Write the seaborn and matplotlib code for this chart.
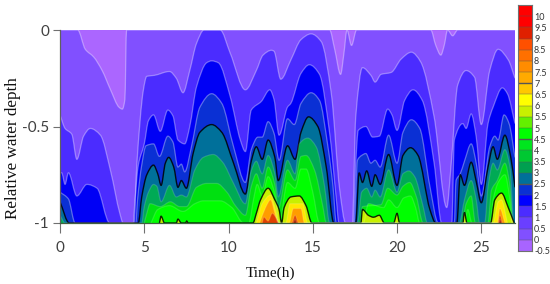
import numpy as np
import seaborn as sns
import matplotlib
matplotlib.use('Agg')
import matplotlib.pyplot as plt
from matplotlib.colors import ListedColormap, BoundaryNorm
from matplotlib.path import Path
from matplotlib.patches import PathPatch

# contour positions: time (h) and relative depth of each level
t0 = [0, 1.05, 1.5, 2, 2.5, 3, 3.5, 3.7, 3.85, 3.95, 16, 16.3, 16.65, 16.85, 17.03, 17.3, 17.6, 22, 22.3, 22.6, 22.8, 23, 23.3, 23.6, 27]
d0 = [0, 0, -.1, -.14, -.21, -.31, -.4, -.41, -.36, 0, 0, -.1, -.23, -.12, 0, -.08, 0, 0, -.08, -.13, -.08, 0, -.03, 0, 0]
t1 = [0, .3, .7, 1, 1.4, 1.8, 2.4, 3, 3.55, 3.75, 4.4, 4.55, 4.95, 5.15, 5.6, 6.5, 6.9, 7.3, 7.7, 8.1, 8.55, 9.5, 10.1, 11, 11.65, 12.05, 12.55, 12.7, 13.1, 13.7, 14.3, 14.9, 15.5, 16.1, 16.6, 16.95, 17.35, 17.55, 17.95, 18.45, 18.7, 19.05, 19.65, 20.25, 20.85, 21.4, 22.2, 22.95, 23.2, 23.6, 24.1, 24.6, 25, 25.5, 26, 26.6, 27]
d1 = [-.44, -.51, -.54, -.67, -.55, -.51, -.545, -.73, -.95, -1, -1, -.71, -.31, -.24, -.235, -.215, -.25, -.325, -.21, -.07, 0, 0, -.12, -.31, -.21, -.13, -.105, -.11, -.255, -.155, -.05, -.02, -.06, -.33, -.83, -1, -1, -.45, -.195, -.235, -.27, -.23, -.22, -.15, -.115, -.165, -.45, -.92, -.71, -.285, -.21, -.245, -.49, -.21, -.1, -.155, -.25]
t2 = [0, .1, .3, .5, 1, 1.6, 2.2, 2.95, 4.35, 4.45, 4.65, 5, 5.25, 5.55, 5.95, 6.4, 6.7, 7, 7.4, 7.7, 8.1, 8.7, 9, 9.4, 10.1, 10.7, 11, 11.35, 11.95, 12.45, 12.7, 13, 13.5, 13.7, 14.3, 14.8, 15.4, 16, 16.4, 16.55, 17.4, 17.55, 17.7, 18.15, 18.55, 18.95, 19.45, 19.7, 20, 20.45, 20.95, 21.5, 22.2, 22.65, 23.25, 23.4, 23.9, 24.1, 24.4, 24.7, 25, 25.4, 25.7, 26.25, 26.55, 27]
d2 = [-.74, -.74, -.8, -.74, -.86, -.8, -.82, -1, -1, -.88, -.7, -.59, -.47, -.44, -.525, -.415, -.445, -.57, -.59, -.5, -.295, -.17, -.16, -.17, -.345, -.57, -.63, -.415, -.37, -.31, -.36, -.545, -.4, -.38, -.225, -.18, -.23, -.535, -.88, -1, -1, -.69, -.52, -.5, -.555, -.55, -.41, -.44, -.52, -.365, -.31, -.365, -.69, -1, -1, -.57, -.485, -.51, -.435, -.555, -.8, -.485, -.4, -.3, -.33, -.485]
t3 = [0, .5, .9, 4.5, 4.6, 4.85, 5.1, 5.55, 5.9, 6.4, 6.7, 7, 7.2, 7.4, 7.8, 8.3, 9, 9.6, 10.3, 11, 11.35, 11.75, 12, 12.35, 12.7, 13, 13.5, 13.9, 14.3, 14.9, 15.4, 15.9, 16.2, 16.4, 17.45, 17.65, 17.9, 18.15, 18.45, 18.7, 19, 19.5, 20, 20.35, 20.85, 21.35, 21.95, 22.45, 23.4, 23.5, 23.75, 24, 24.4, 24.7, 25, 25.5, 25.8, 26, 26.35, 26.65, 27]
d3 = [-.84, -.875, -1, -1, -.88, -.7, -.6, -.59, -.655, -.55, -.58, -.71, -.695, -.735, -.605, -.4, -.33, -.38, -.605, -.79, -.62, -.555, -.555, -.475, -.535, -.675, -.46, -.49, -.38, -.325, -.365, -.605, -.81, -1, -1, -.675, -.65, -.64, -.69, -.675, -.71, -.545, -.69, -.53, -.465, -.51, -.81, -1, -1, -.78, -.745, -.68, -.59, -.69, -.86, -.605, -.55, -.57, -.44, -.485, -.66]
t4 = [0, .55, 4.65, 4.85, 5.15, 5.55, 5.8, 6, 6.25, 6.45, 6.75, 7, 7.2, 7.5, 7.9, 8.3, 9, 9.6, 10.3, 11, 11.35, 11.65, 12, 12.35, 12.75, 12.95, 13.5, 13.95, 14.3, 14.75, 15.3, 15.8, 16.25, 17.55, 17.75, 17.95, 18.2, 18.5, 18.7, 19, 19.5, 20, 20.35, 20.8, 21.25, 21.95, 22.3, 23.55, 23.75, 24, 24.4, 24.7, 25, 25.4, 25.7, 25.95, 26.4, 26.75, 27]
d4 = [-.89, -1, -1, -.865, -.75, -.7, -.745, -.805, -.69, -.66, -.71, -.815, -.78, -.82, -.64, -.53, -.49, -.53, -.69, -.85, -.68, -.605, -.67, -.57, -.66, -.78, -.6, -.67, -.53, -.45, -.5, -.71, -1, -1, -.74, -.79, -.73, -.81, -.75, -.8, -.645, -.805, -.65, -.61, -.65, -.93, -1, -1, -.75, -.805, -.685, -.785, -.895, -.71, -.605, -.67, -.545, -.66, -.815]
t5 = [0, .3, 4.85, 5, 5.25, 5.55, 5.75, 6, 6.5, 6.9, 7.2, 7.5, 8, 8.5, 9.1, 9.65, 10.3, 11, 11.35, 11.65, 12, 12.35, 12.75, 12.95, 13.5, 13.95, 14.2, 14.7, 15.2, 15.7, 16, 17.65, 17.9, 18.2, 18.5, 18.7, 19, 19.5, 20, 20.35, 20.7, 21.05, 21.55, 21.8, 23.7, 24, 24.4, 24.7, 24.9, 25.2, 25.4, 25.7, 25.95, 26.4, 26.7, 26.9, 27]
d5 = [-.96, -1, -1, -.915, -.84, -.8, -.81, -.89, -.805, -.865, -.855, -.865, -.725, -.66, -.645, -.685, -.795, -.9, -.73, -.68, -.745, -.65, -.745, -.865, -.675, -.745, -.59, -.56, -.605, -.81, -1, -1, -.84, -.82, -.865, -.83, -.865, -.725, -.84, -.745, -.73, -.76, -.915, -1, -1, -.88, -.78, -.88, -1, -1, -.81, -.69, -.725, -.62, -.71, -1, -1]
t6 = [5, 5.15, 5.35, 5.95, 6.55, 7.1, 7.5, 8.1, 8.7, 9.3, 9.9, 10.45, 11, 11.35, 11.65, 12, 12.35, 12.75, 12.95, 13.5, 13.95, 14.3, 14.6, 15.1, 15.6, 15.8, 17.8, 17.95, 19.05, 19.45, 20, 20.35, 20.75, 21.15, 21.55, 23.85, 24.1, 24.4, 24.65, 25.4, 25.6, 25.95, 26.4, 26.7, 26.85]
d6 = [-1, -.95, -.9, -.915, -.89, -.915, -.915, -.815, -.795, -.795, -.84, -.915, -.96, -.81, -.745, -.82, -.71, -.8, -.925, -.725, -.78, -.655, -.65, -.725, -.915, -1, -1, -.915, -.905, -.82, -.855, -.81, -.79, -.865, -1, -1, -.9, -.86, -1, -1, -.83, -.78, -.69, -.81, -1]
t7 = [5.4, 5.8, 6.5, 7.3, 8, 8.5, 9.5, 10.2, 10.9, 11.2, 11.5, 11.7, 12, 12.35, 12.75, 13, 13.5, 13.95, 14.3, 14.6, 15, 15.4, 18, 18.3, 19.2, 19.5, 20, 20.4, 20.8, 21.1, 21.35, 24, 24.2, 24.45, 25.5, 25.7, 26, 26.4, 26.7, 26.8]
d7 = [-1, -.93, -.91, -.94, -.9, -.885, -.885, -.92, -1, -1, -.87, -.8, -.86, -.76, -.85, -1, -.79, -.82, -.72, -.72, -.84, -1, -1, -.9, -.92, -.88, -.92, -.87, -.86, -.92, -1, -1, -.93, -1, -1, -.88, -.79, -.75, -.88, -1]
# black line round the yellow patches
t8 = [5.9, 6, 6.2, 6.9, 7, 7.2, 7.45, 7.52, 7.6, 11.45, 11.65, 11.9, 12.35, 12.75, 13, 13.15, 13.3, 13.7, 14.2, 14.6, 14.95, 17.85, 17.95, 18.3, 18.6, 18.95, 19.25, 19.8, 20, 20.15, 23.9, 24, 24.15, 25.55, 25.8, 26.2, 26.6, 26.95]
d8 = [-1, -.965, -1, -1, -.98, -1, -1, -.99, -1, -1, -.95, -.88, -.82, -.88, -.93, -1, -.92, -.865, -.86, -.91, -1, -1, -.93, -.96, -.97, -.96, -1, -1, -.95, -1, -1, -.945, -1, -1, -.88, -.845, -.92, -1]
t9 = [11.65, 12, 12.5, 12.75, 13, 13.4, 13.65, 14.4, 14.7, 25.7, 26, 26.2, 26.55]
d9 = [-1, -.9, -.855, -.92, -1, -1, -.9, -.9, -1, -1, -.89, -.88, -1]
t10 = [11.85, 12.2, 12.5, 12.75, 12.95, 13.6, 13.85, 14.3, 14.5, 25.95, 26.1, 26.4]
d10 = [-1, -.92, -.88, -.95, -1, -1, -.925, -.925, -1, -1, -.925, -1]
t11 = [12, 12.1, 12.35, 12.6, 12.8, 13, 13.75, 13.95, 14.15, 26, 26.1, 26.25]
d11 = [-1, -.97, -.99, -.95, -.97, -1, -1, -.96, -1, -1, -.96, -1]
t12 = [13.85, 13.95, 14.05, 26.05, 26.1, 26.2]
d12 = [-1, -.98, -1, -1, -.98, -1]

band_colors = ['#8150ff', '#4b2cff', '#0000f5', '#0a30d4', '#00709a', '#00aa55',
               '#00e010', '#00ff00', '#c8f000', '#ffe800', '#ff9c00', '#e04000', '#a02000']
line_colors = ['w', 'w', 'w', 'w', 'k', 'w', 'w', 'w', 'k', 'w', 'w', 'w', 'w']
line_alphas = [.35, .35, .35, .35, .85, .15, .15, .15, .85, .15, .15, .15, .15]

bar_levels = [-.5, 0, .5, 1, 1.5, 2, 2.5, 3, 3.5, 4, 4.5, 5, 5.5, 6, 6.5, 7, 7.5, 8, 8.5, 9, 9.5, 10, 10.5]
bar_ticks = bar_levels[:-1]
bar_marked = [2.5, 4.5, 7]
bar_colors = ['#a864ff', '#8150ff', '#6a3fff', '#4b2cff', '#0000ff', '#0a30d4', '#00709a', '#00a050',
              '#00c832', '#00e61e', '#00ff00', '#64f000', '#c8f000', '#ffff00', '#ffc800', '#ffaa00',
              '#ff8c00', '#ff7000', '#ff5000', '#e02000', '#ff0000', '#ff0000']
x_ticks = [0, 5, 10, 15, 20, 25]
y_ticks = [0, -.5, -1]
y_labels = ['0', '-0.5', '-1']

levels = [(t0, d0), (t1, d1), (t2, d2), (t3, d3), (t4, d4), (t5, d5), (t6, d6),
          (t7, d7), (t8, d8), (t9, d9), (t10, d10), (t11, d11), (t12, d12)]

sns.set_style('white')
plt.rcParams['font.family'] = 'Lato'

fig = plt.figure(figsize=(5.5, 2.84), dpi=100)
ax = fig.add_axes([60 / 550, 1 - 223 / 284, 455 / 550, 193 / 284])
ax.set_facecolor('#ab66ff')


def curve_through(tt, dd):
    # bezier handles so the contour stays round through the read points, flat at the tops
    slope = np.diff(dd) / np.diff(tt)
    m = np.zeros(len(tt))
    for i in range(1, len(tt) - 1):
        if slope[i - 1] * slope[i] > 0:
            m[i] = 2 * slope[i - 1] * slope[i] / (slope[i - 1] + slope[i])
    m[0], m[-1] = slope[0], slope[-1]
    verts, codes = [], []
    for i in range(len(tt) - 1):
        h = (tt[i + 1] - tt[i]) / 3
        verts += [(tt[i] + h, dd[i] + m[i] * h), (tt[i + 1] - h, dd[i + 1] - m[i + 1] * h), (tt[i + 1], dd[i + 1])]
        codes += [Path.CURVE4] * 3
    return verts, codes


def draw_level(ax, tt, dd, fill, line, alpha):
    tt = np.array(tt, float)
    dd = np.array(dd, float)
    verts, codes = curve_through(tt, dd)
    outline = Path([(tt[0], -1), (tt[0], dd[0])] + verts + [(tt[-1], -1), (tt[0], -1)],
                   [Path.MOVETO, Path.LINETO] + codes + [Path.LINETO, Path.CLOSEPOLY])
    ax.add_patch(PathPatch(outline, facecolor=fill, edgecolor='none', lw=0, zorder=2))
    # no line along the bottom where the level is not there
    keep = dd > -1
    keep[:-1] |= dd[1:] > -1
    keep[1:] |= dd[:-1] > -1
    start = None
    for i, k in enumerate(list(keep) + [False]):
        if k and start is None:
            start = i
        if not k and start is not None:
            v, c = curve_through(tt[start:i], dd[start:i])
            ax.add_patch(PathPatch(Path([(tt[start], dd[start])] + v, [Path.MOVETO] + c), fill=False,
                                   edgecolor=line, lw=1.0 if line == 'k' else .9, alpha=alpha, zorder=3))
            start = None


for (tt, dd), fill, line, alpha in zip(levels, band_colors, line_colors, line_alphas):
    draw_level(ax, tt, dd, fill, line, alpha)

ax.set_xlim(0, 27)
ax.set_ylim(-1, 0)
ax.set_xticks(x_ticks)
ax.set_yticks(y_ticks)
ax.set_yticklabels(y_labels)
ax.tick_params(axis='y', direction='out', length=5, width=.8, color='#707070',
               labelcolor='#404040', labelsize=11, left=True, pad=3)
ax.tick_params(axis='x', direction='out', length=7, width=.8, color='#707070',
               labelcolor='#404040', labelsize=11, bottom=True, pad=6)
sns.despine(ax=ax)
ax.spines['left'].set_color('#606060')
ax.spines['bottom'].set_color('#406040')
for sp in ax.spines.values():
    sp.set_linewidth(.9)
    sp.set_zorder(5)

fig.text(271 / 550, 1 - 273 / 284, 'Time(h)', family='Liberation Serif', fontsize=11,
         ha='center', va='center', color='#111111')
fig.text(13 / 550, 1 - 148 / 284, 'Relative water depth', family='Liberation Serif', fontsize=12.3,
         rotation=90, ha='center', va='center', color='#111111')

# colour key
cax = fig.add_axes([518 / 550, 1 - 251 / 284, 14 / 550, 246 / 284])
cells = np.array(bar_ticks)[::-1].reshape(-1, 1)
sns.heatmap(cells, ax=cax, cmap=ListedColormap(bar_colors), norm=BoundaryNorm(bar_levels, len(bar_colors)),
            cbar=False, xticklabels=False, linewidths=0)
n = len(bar_ticks)
cax.set_yticks([n - i for i in range(n)])
cax.set_yticklabels(['%g' % v for v in bar_ticks], rotation=0)
cax.yaxis.tick_right()
cax.tick_params(axis='y', length=0, labelsize=6.5, labelcolor='#333333', pad=1.5)
for v in bar_ticks[1:]:
    cax.axhline(n - bar_ticks.index(v), color='#555555', lw=1 if v in bar_marked else .3)
for sp in cax.spines.values():
    sp.set_visible(True)
    sp.set_color('#707070')
    sp.set_linewidth(.8)

fig.savefig('out.png', dpi=100)
